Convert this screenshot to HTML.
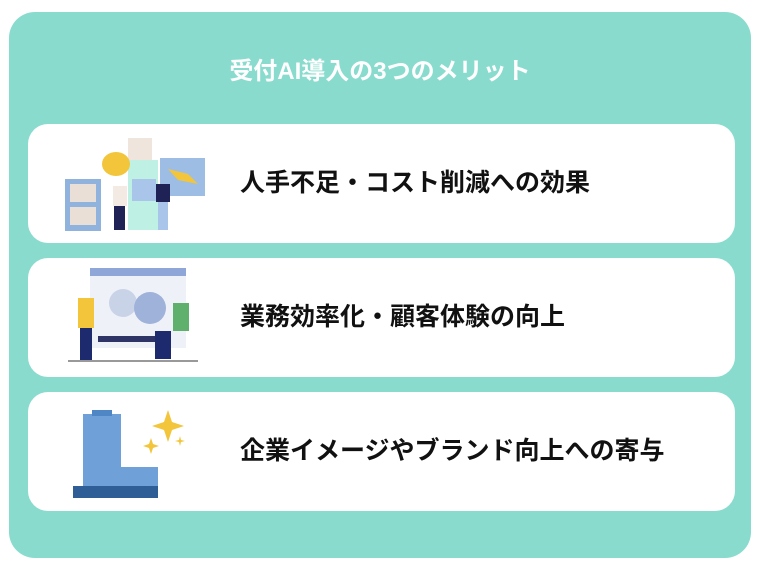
<!DOCTYPE html>
<html><head><meta charset="utf-8"><style>
body{margin:0;width:760px;height:570px;background:#fff;position:relative;overflow:hidden;font-family:"Liberation Sans","Noto Sans CJK JP",sans-serif}
.bg{position:absolute;left:9px;top:12px;width:742px;height:546px;background:#88dbcd;border-radius:26px}
.title{position:absolute;left:0;width:760px;top:57px;text-align:center;color:#fff;font-weight:bold;font-size:24px;line-height:30px}
.card{position:absolute;left:28px;width:707px;height:119px;background:#fff;border-radius:20px}
.card span{position:absolute;left:212px;top:43px;font-size:25px;font-weight:bold;color:#111;line-height:32px;white-space:nowrap}
.card svg{position:absolute;left:0;top:0}
</style></head><body>
<div class="bg"></div>
<div class="title">受付AI導入の3つのメリット</div>
<div class="card" style="top:124px">
<svg width="200" height="119">
<rect x="37" y="55" width="36" height="52" fill="#8fb3dd"/>
<rect x="42" y="60" width="26" height="18" fill="#eadfd6"/><rect x="42" y="83" width="26" height="18" fill="#eadfd6"/>
<rect x="100" y="14" width="24" height="34" fill="#efe5dc"/>
<rect x="100" y="36" width="30" height="70" fill="#bff0e4"/>
<rect x="104" y="55" width="24" height="22" fill="#a9c5ea"/>
<rect x="132" y="34" width="45" height="38" fill="#9dbde4"/>
<path d="M140 45 L160 50 L170 60 L150 56Z" fill="#f2c53a"/>
<ellipse cx="88" cy="40" rx="14" ry="12" fill="#f2c53a"/>
<rect x="85" y="62" width="14" height="20" fill="#f3ebe3"/><rect x="86" y="82" width="11" height="24" fill="#1e2255"/>
<rect x="128" y="60" width="14" height="18" fill="#1e2255"/><rect x="130" y="78" width="10" height="28" fill="#a9c5ea"/>
</svg><span>人手不足・コスト削減への効果</span></div>
<div class="card" style="top:258px">
<svg width="200" height="119">
<rect x="62" y="10" width="96" height="80" fill="#eef1f8"/>
<rect x="62" y="10" width="96" height="8" fill="#8fa7d8"/>
<circle cx="95" cy="45" r="14" fill="#c9d3e8"/><circle cx="122" cy="50" r="16" fill="#9fb2da"/>
<rect x="70" y="78" width="60" height="6" fill="#2e3566"/>
<rect x="50" y="40" width="16" height="30" fill="#f2c53a"/><rect x="52" y="70" width="12" height="32" fill="#1e2a6e"/>
<rect x="145" y="45" width="16" height="28" fill="#5fb06d"/><rect x="127" y="73" width="16" height="28" fill="#1e2a6e"/>
<rect x="40" y="102" width="130" height="2" fill="#999"/>
</svg><span>業務効率化・顧客体験の向上</span></div>
<div class="card" style="top:392px">
<svg width="200" height="119">
<rect x="55" y="22" width="38" height="80" fill="#6fa1d8"/>
<rect x="64" y="18" width="20" height="6" fill="#4f86c6"/>
<rect x="90" y="75" width="40" height="27" fill="#6fa1d8"/>
<rect x="45" y="94" width="85" height="12" fill="#2f5e96"/>
<path d="M140 18 L144 30 L156 34 L144 38 L140 50 L136 38 L124 34 L136 30Z" fill="#f2c53a"/>
<path d="M123 46 L125 52 L131 54 L125 56 L123 62 L121 56 L115 54 L121 52Z" fill="#f2c53a"/>
<path d="M152 44 L153 48 L157 49 L153 50 L152 54 L151 50 L147 49 L151 48Z" fill="#f2c53a"/>
</svg><span>企業イメージやブランド向上への寄与</span></div>
</body></html>
